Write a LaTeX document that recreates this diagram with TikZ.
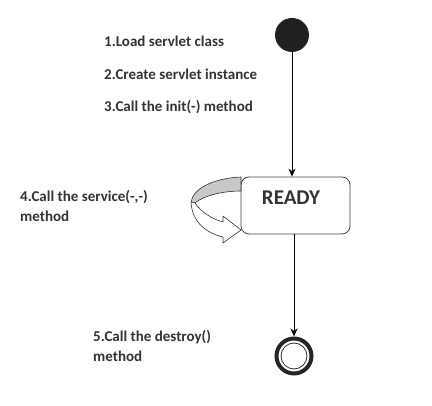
\documentclass[tikz,border=0pt]{standalone}
\usepackage{fontspec}
\setmainfont{Carlito}
\usetikzlibrary{arrows.meta}
\definecolor{txt}{HTML}{333333}
\definecolor{band}{HTML}{C8C8C8}
\tikzset{
  lbl/.style={anchor=west, inner sep=0pt, font=\bfseries\fontsize{15}{18}\selectfont, text=txt, align=left},
  conn/.style={-{Stealth[length=8pt,width=7pt]}, line width=0.8pt, black},
  outl/.style={draw=black!80, line width=0.6pt, line join=round}
}
\begin{document}
\begin{tikzpicture}[x=1pt,y=-1pt]
\useasboundingbox (0,0) rectangle (432,406);
% start
\node[circle, fill=black!87, minimum size=34pt, inner sep=0pt] (start) at (292,35) {};
% READY state
\node[draw=black!75, line width=0.8pt, rounded corners=8pt, minimum width=109pt, minimum height=57pt, inner sep=0pt] (ready) at (295.5,205.5) {};
\node[inner sep=0pt, font=\bfseries\fontsize{21}{24}\selectfont, text=txt] (readyt) at (291,198) {READY};
% end
\node[circle, draw=black!85, line width=4pt, minimum size=35pt, inner sep=0pt] (end) at (294,356) {};
\draw[line width=0.8pt, black!80] (end.center) circle (13);
% connectors
\coordinate (rt) at (ready.north -| start);
\draw[conn] (start) -- (rt);
\coordinate (rb) at (ready.south -| end);
\draw[conn] (rb) -- (end.north);
% self-loop block arrow
\fill[band, outl] (241,177) .. controls (215,178) and (193,188) .. (191,202)
   -- (195,203) .. controls (203,196) and (222,191) .. (241,191) -- cycle;
\filldraw[fill=white, outl] (191,202) -- (195,203)
   .. controls (201,212) and (212,219) .. (223,222)
   -- (223,216) -- (241,230) -- (223,243) -- (223,237)
   .. controls (206,233) and (192,222) .. (191,202) -- cycle;
% labels
\node[lbl] (t1) at (104,41) {1.Load servlet class};
\node[lbl] (t2) at (104,74) {2.Create servlet instance};
\node[lbl] (t3) at (104,107) {3.Call the init(-) method};
\node[lbl] (t4) at (20,197) {4.Call the service(-,-)};
\node[lbl] (t4b) at (20,216) {method};
\node[lbl] (t5) at (93,337) {5.Call the destroy()};
\node[lbl] (t5b) at (93,356) {method};
\end{tikzpicture}
\end{document}
